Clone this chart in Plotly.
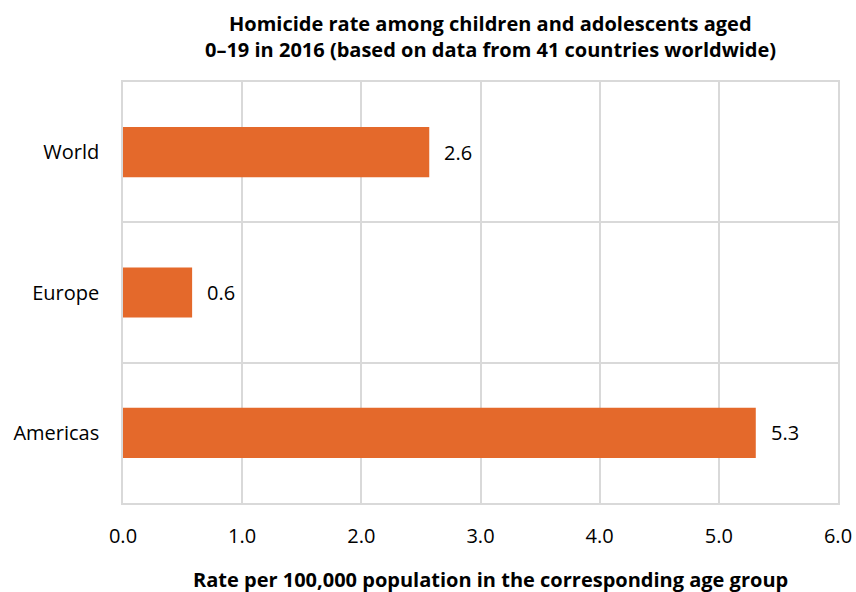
import plotly.graph_objects as go

categories = ["Americas", "Europe", "World"]
values = [5.31, 0.58, 2.57]
labels = ["5.3", "0.6", "2.6"]
x_ticks = [0, 1, 2, 3, 4, 5, 6]
x_tick_text = ["0.0", "1.0", "2.0", "3.0", "4.0", "5.0", "6.0"]
title_lines = ["Homicide rate among children and adolescents aged",
               "0–19 in 2016 (based on data from 41 countries worldwide)"]
x_title = "Rate per 100,000 population in the corresponding age group"

FONT = "Open Sans, Lato, sans-serif"
BAR = "#E4692B"
GRID = "#D9D9D9"
FS = 20

pos = list(range(len(categories)))

fig = go.Figure()
fig.add_trace(go.Bar(
    x=values, y=pos, orientation="h",
    marker=dict(color=BAR, line=dict(width=0)),
    width=0.357, hoverinfo="skip",
))

for p, v, t in zip(pos, values, labels):
    fig.add_annotation(x=v, y=p, text=t, xanchor="left", showarrow=False,
                       xshift=13, font=dict(size=FS, color="#000", family=FONT))

# Title lines and x-axis title as paper annotations
for yy, line in zip([1.1395, 1.0765], title_lines):
    fig.add_annotation(x=0.5133, y=yy, xref="paper", yref="paper", text="<b>" + line + "</b>",
                       showarrow=False, xanchor="center", yanchor="middle",
                       font=dict(size=20, color="#000", family=FONT))
fig.add_annotation(x=0.5133, y=-0.181, xref="paper", yref="paper", text="<b>" + x_title + "</b>",
                   showarrow=False, xanchor="center", yanchor="middle",
                   font=dict(size=20, color="#000", family=FONT))

fig.update_layout(
    width=856, height=592,
    margin=dict(l=123, r=18, t=82, b=89),
    paper_bgcolor="white", plot_bgcolor="white",
    showlegend=False,
    font=dict(family=FONT, size=FS, color="#000"),
    xaxis=dict(
        range=[0, 6], tickvals=x_ticks, ticktext=x_tick_text,
        showgrid=True, gridcolor=GRID, gridwidth=1.5,
        zeroline=False, showline=True, linecolor=GRID, linewidth=1.5, mirror=True,
        ticks="", ticklabelstandoff=14, automargin=False,
        tickfont=dict(size=FS, family=FONT, color="#000"),
    ),
    yaxis=dict(
        range=[-0.5, 2.5], tickvals=pos, ticktext=categories,
        showgrid=False, zeroline=False,
        showline=True, linecolor=GRID, linewidth=1.5, mirror=True,
        minor=dict(tickvals=[0.5, 1.5], showgrid=True, gridcolor=GRID, gridwidth=1.5, ticks=""),
        ticks="", ticklabelstandoff=18, automargin=False,
        tickfont=dict(size=FS, family=FONT, color="#000"),
    ),
)

# remove the browser's default 8px body margin so the 856x592 figure fills the window
fig.write_html("out.html", config={"displayModeBar": False},
               post_script="document.body.style.margin='0';document.body.style.overflow='hidden';")
